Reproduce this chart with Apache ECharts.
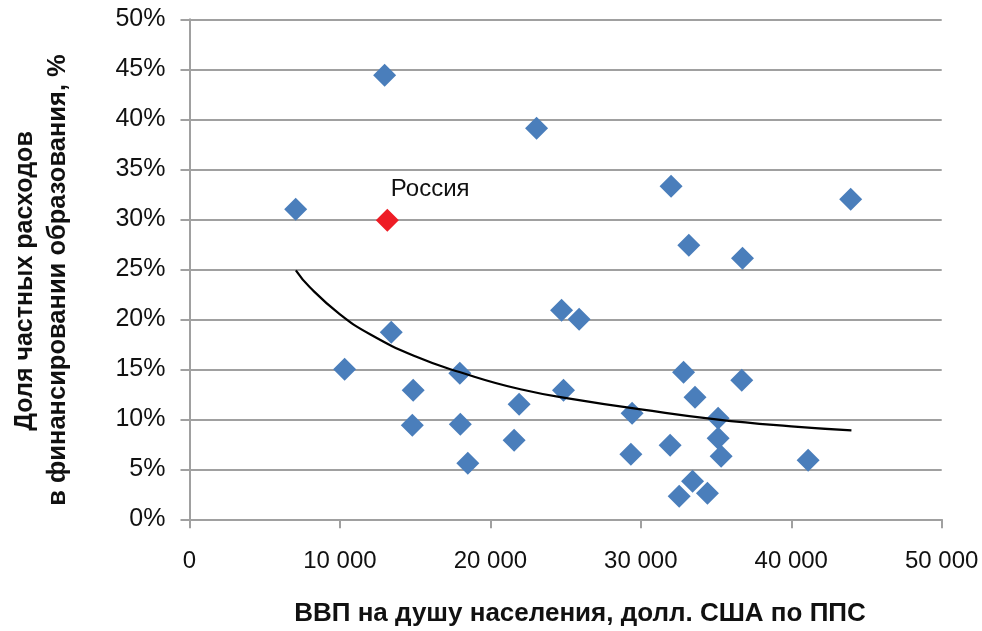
<!DOCTYPE html>
<html>
<head>
<meta charset="utf-8">
<script src="https://cdn.jsdelivr.net/npm/echarts@6/dist/echarts.min.js"></script>
<style>
html,body{margin:0;padding:0;background:#fff;}
#chart{width:982px;height:631px;}
</style>
</head>
<body>
<div id="chart"></div>
<script>
// GDP per capita (USD PPP) and private share of education spending (%)
var countriesX = [12970, 23070, 7060, 10310, 13410, 14870, 14810, 17970, 18000, 18500, 21580, 21910, 24730, 25900, 24860,
                  32010, 43950, 33190, 36760, 32840, 36710, 33600, 29420, 35140, 35140, 29340, 31950, 35340, 41120, 33440, 32550, 34430];
var countriesY = [44.4, 39.1, 31.0, 15.0, 18.7, 12.9, 9.4, 14.6, 9.5, 5.6, 7.9, 11.5, 20.9, 20.0, 12.9,
                  33.3, 32.0, 27.4, 26.1, 14.7, 13.9, 12.2, 10.6, 10.1, 8.1, 6.5, 7.4, 6.3, 5.9, 3.8, 2.3, 2.6];
var russiaX = [13150];
var russiaY = [29.9];
var russiaLabel = 'Россия';
// trend line
var trendX = [7070, 8000, 10000, 12000, 15000, 18000, 22000, 26000, 30000, 35000, 40000, 44000];
var trendY = [24.9, 23.2, 20.5, 18.5, 16.3, 14.7, 13.0, 11.9, 11.0, 10.0, 9.3, 8.9];
var xTicks = [0, 10000, 20000, 30000, 40000, 50000];
var yTicks = [0, 5, 10, 15, 20, 25, 30, 35, 40, 45, 50];
var xTitle = 'ВВП на душу населения, долл. США по ППС';
var yTitle1 = 'Доля частных расходов';
var yTitle2 = 'в финансировании образования, %';

function zip(a, b) { return a.map(function (v, i) { return [v, b[i]]; }); }

var chart = echarts.init(document.getElementById('chart'));
var axisColor = '#a0a0a0';
var font = 'Liberation Sans, Arial, sans-serif';
chart.setOption({
  animation: false,
  backgroundColor: '#fff',
  grid: { left: 189.5, right: 40.3, top: 19.3, bottom: 111.7, containLabel: false },
  xAxis: {
    type: 'value', min: xTicks[0], max: xTicks[xTicks.length - 1], interval: 10000,
    splitLine: { show: false },
    axisLine: { show: true, lineStyle: { color: axisColor, width: 2 } },
    axisTick: { show: true, length: 9, lineStyle: { color: axisColor, width: 2 } },
    axisLabel: {
      margin: 30, fontSize: 24, color: '#111', fontFamily: font,
      formatter: function (v) { return v === 0 ? '0' : String(v).replace(/\B(?=(\d{3})+(?!\d))/g, ' '); }
    }
  },
  yAxis: {
    type: 'value', min: yTicks[0], max: yTicks[yTicks.length - 1], interval: 5,
    splitLine: { show: true, lineStyle: { color: axisColor, width: 2 } },
    axisLine: { show: true, lineStyle: { color: axisColor, width: 2 } },
    axisTick: { show: true, length: 9, lineStyle: { color: axisColor, width: 2 } },
    axisLabel: { margin: 24, fontSize: 25, color: '#111', fontFamily: font, formatter: '{value}%' }
  },
  series: [
    {
      type: 'scatter', data: zip(countriesX, countriesY), symbol: 'diamond', symbolSize: 23,
      itemStyle: { color: '#4a7ebb', opacity: 1 }, z: 3
    },
    {
      type: 'line', data: zip(trendX, trendY), smooth: true, showSymbol: false, symbol: 'none',
      lineStyle: { color: '#000', width: 2.2 }, z: 4
    },
    {
      type: 'scatter', data: zip(russiaX, russiaY), symbol: 'diamond', symbolSize: 23,
      itemStyle: { color: '#ee1c25', opacity: 1 }, z: 5,
      label: {
        show: true, position: [15, -31], formatter: russiaLabel, fontSize: 24,
        color: '#111', fontFamily: font
      }
    }
  ],
  graphic: [
    { type: 'text', x: 580, y: 614, style: { text: xTitle, x: 0, y: 0, align: 'center', verticalAlign: 'middle', font: 'bold 26px ' + font, fill: '#111' } },
    { type: 'text', x: 25, y: 281, rotation: Math.PI / 2, style: { text: yTitle1, x: 0, y: 0, align: 'center', verticalAlign: 'middle', font: 'bold 25px ' + font, fill: '#111' } },
    { type: 'text', x: 58, y: 280, rotation: Math.PI / 2, style: { text: yTitle2, x: 0, y: 0, align: 'center', verticalAlign: 'middle', font: 'bold 25.5px ' + font, fill: '#111' } }
  ]
});
</script>
</body>
</html>
